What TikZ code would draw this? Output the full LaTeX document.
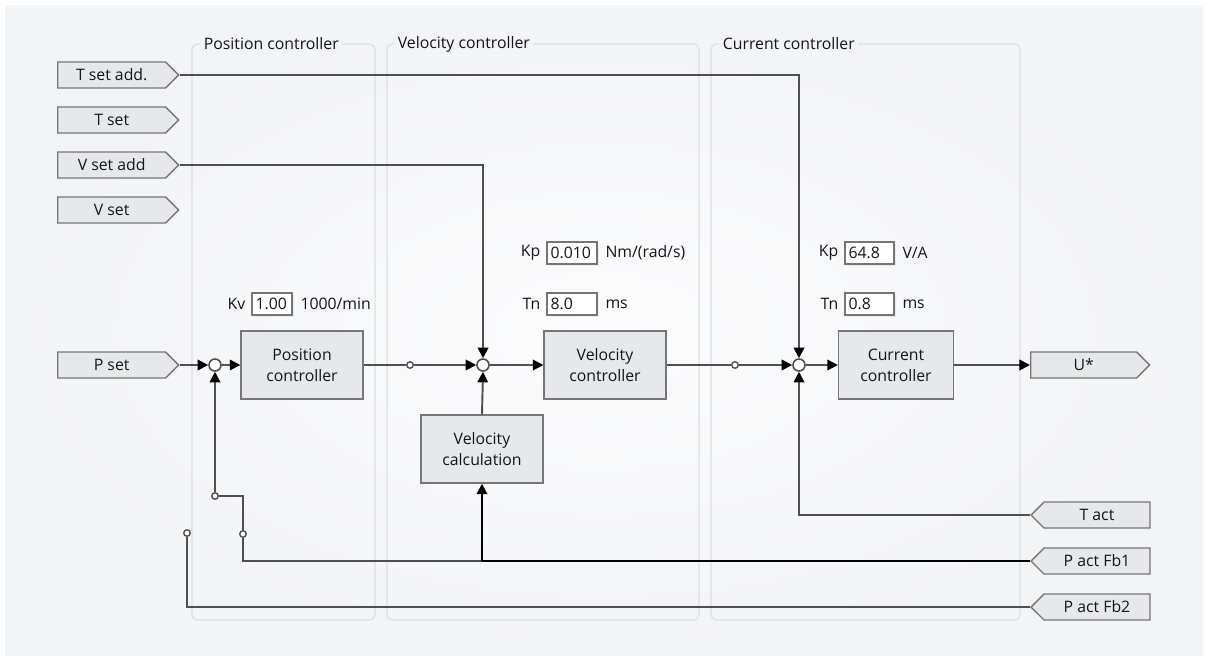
\documentclass[tikz,border=0pt]{standalone}
\usepackage{fontspec}
\setmainfont{Open Sans}
\usetikzlibrary{positioning,shapes.symbols,arrows.meta,shadows}

\definecolor{bgpanel}{RGB}{243,244,246}
\definecolor{bgglow}{RGB}{252,252,253}
\definecolor{wiregray}{RGB}{80,80,80}
\definecolor{blockfill}{RGB}{230,232,235}
\definecolor{blockline}{RGB}{118,118,118}
\definecolor{frameline}{RGB}{218,225,231}
\definecolor{txt}{RGB}{20,20,30}

\tikzset{
  block/.style={draw=blockline, fill=blockfill, line width=0.8pt,
    minimum width=2.44cm, minimum height=1.36cm, align=center, inner sep=2pt},
  tagin/.style={signal, signal to=east, draw=blockline, fill=blockfill,
    line width=0.8pt, minimum width=2.42cm, minimum height=0.52cm, inner sep=1pt},
  tagback/.style={signal, signal to=west, draw=blockline, fill=blockfill,
    line width=0.8pt, minimum width=2.38cm, minimum height=0.52cm, inner sep=1pt},
  sumjunc/.style={circle, draw=wiregray, fill=white, line width=0.9pt,
    minimum size=0.24cm, inner sep=0pt},
  tap/.style={circle, draw=wiregray, fill=white, line width=0.8pt,
    minimum size=0.13cm, inner sep=0pt},
  param/.style={draw=blockline, fill=white, line width=0.6pt,
    minimum height=0.44cm, inner xsep=2pt, inner ysep=0pt, align=left,
    drop shadow={opacity=0.12, shadow xshift=1.2pt, shadow yshift=-1.2pt}},
  conn/.style={draw=wiregray, line width=1.1pt},
  sig/.style={conn, -{Triangle[length=6pt,width=6pt,color=black]}},
  active/.style={draw=black},
  grpframe/.style={draw=frameline, line width=0.7pt, rounded corners=3pt},
  grptitle/.style={fill=bgpanel, inner xsep=2pt, inner ysep=1pt, anchor=west},
}

\begin{document}
\begin{tikzpicture}[x=0.02cm, y=-0.02cm,
    every node/.style={font=\fontsize{9}{12}\selectfont, text=txt}]
  \useasboundingbox (0,0) rectangle (1208,660);
  % background panel
  \fill[white] (0,0) rectangle (1208,660);
  \shade[inner color=bgglow, outer color=bgpanel] (5,5) rectangle (1203,655);

  % controller groups
  \draw[grpframe] (192,44) rectangle (375,620);
  \draw[grpframe] (387,44) rectangle (699,620);
  \draw[grpframe] (711,44) rectangle (1020,620);
  \node[grptitle] (postitle) at (200,44) {Position controller};
  \node[grptitle] (veltitle) at (394,44) {Velocity controller};
  \node[grptitle] (curtitle) at (719,44) {Current controller};

  % inputs
  \node[tagin, anchor=west] (tsetadd) at (57,75) {T set add.};
  \node[tagin, anchor=west] (tset) at (57,120) {T set};
  \node[tagin, anchor=west] (vsetadd) at (57,165) {V set add};
  \node[tagin, anchor=west] (vset) at (57,210) {V set};
  \node[tagin, anchor=west] (pset) at (57,365) {P set};

  % outputs and feedback
  \node[tagin, anchor=west, minimum width=2.38cm] (uout) at (1030,365) {U*};
  \node[tagback, anchor=west] (tact) at (1030,515) {T act};
  \node[tagback, anchor=west] (pactfb1) at (1030,561) {P act Fb1};
  \node[tagback, anchor=west] (pactfb2) at (1030,607) {P act Fb2};

  % blocks
  \node[block] (posctrl) at (302,365) {Position\\controller};
  \node[block] (velctrl) at (605,365) {Velocity\\controller};
  \node[block] (velcalc) at (482,449) {Velocity\\calculation};
  \node[block, minimum width=2.3cm] (curctrl) at (896,365) {Current\\controller};

  % summing points and taps
  \node[sumjunc] (sumpos) at (215,365) {};
  \node[sumjunc] (sumvel) at (483,365) {};
  \node[sumjunc] (sumcur) at (799,365) {};
  \node[tap] (tappos) at (410,365) {};
  \node[tap] (tapvel) at (735,365) {};
  \node[tap] (swfb) at (215,496) {};
  \node[tap] (swfb1) at (243,534) {};
  \node[tap] (swfb2) at (187,533) {};

  % parameters
  \node[param, text width=0.66cm] (kvbox) at (272,304) {1.00};
  \node[left=0pt of kvbox] (kvlbl) {Kv};
  \node[right=1pt of kvbox] (kvunit) {1000/min};
  \node[param, text width=0.86cm] (kpvbox) at (572,253) {0.010};
  \node[left=0pt of kpvbox] (kpvlbl) {Kp};
  \node[right=1pt of kpvbox] (kpvunit) {Nm/(rad/s)};
  \node[param, text width=0.86cm] (tnvbox) at (572,304) {8.0};
  \node[left=0pt of tnvbox] (tnvlbl) {Tn};
  \node[right=1pt of tnvbox] (tnvunit) {ms};
  \node[param, text width=0.84cm] (kpcbox) at (869.5,253) {64.8};
  \node[left=0pt of kpcbox] (kpclbl) {Kp};
  \node[right=1pt of kpcbox] (kpcunit) {V/A};
  \node[param, text width=0.84cm] (tncbox) at (869.5,304) {0.8};
  \node[left=0pt of tncbox] (tnclbl) {Tn};
  \node[right=1pt of tncbox] (tncunit) {ms};

  % forward path
  \draw[sig] (pset.east) -- (sumpos.west);
  \draw[sig] (sumpos.east) -- (posctrl.west);
  \draw[conn] (posctrl.east) -- (tappos.west);
  \draw[sig] (tappos.east) -- (sumvel.west);
  \draw[sig] (sumvel.east) -- (velctrl.west);
  \draw[conn] (velctrl.east) -- (tapvel.west);
  \draw[sig] (tapvel.east) -- (sumcur.west);
  \draw[sig] (sumcur.east) -- (curctrl.west);
  \draw[sig] (curctrl.east) -- (uout.west);

  % additive setpoints
  \draw[sig] (tsetadd.east) -| (sumcur.north);
  \draw[sig] (vsetadd.east) -| (sumvel.north);

  % feedback
  \draw[sig] (tact.west) -| (sumcur.south);
  \draw[sig] (velcalc.north) -- (sumvel.south);
  \draw[sig] (swfb.north) -- (sumpos.south);
  \draw[conn] (swfb.east) -| (swfb1.north);
  \coordinate (fbsplit) at (velcalc.south |- pactfb1.west);
  \draw[conn] (fbsplit) -| (swfb1.south);
  \draw[conn, active] (pactfb1.west) -- (fbsplit);
  \draw[sig, active] (fbsplit) -- (velcalc.south);
  \draw[conn] (pactfb2.west) -| (swfb2.south);
\end{tikzpicture}
\end{document}
